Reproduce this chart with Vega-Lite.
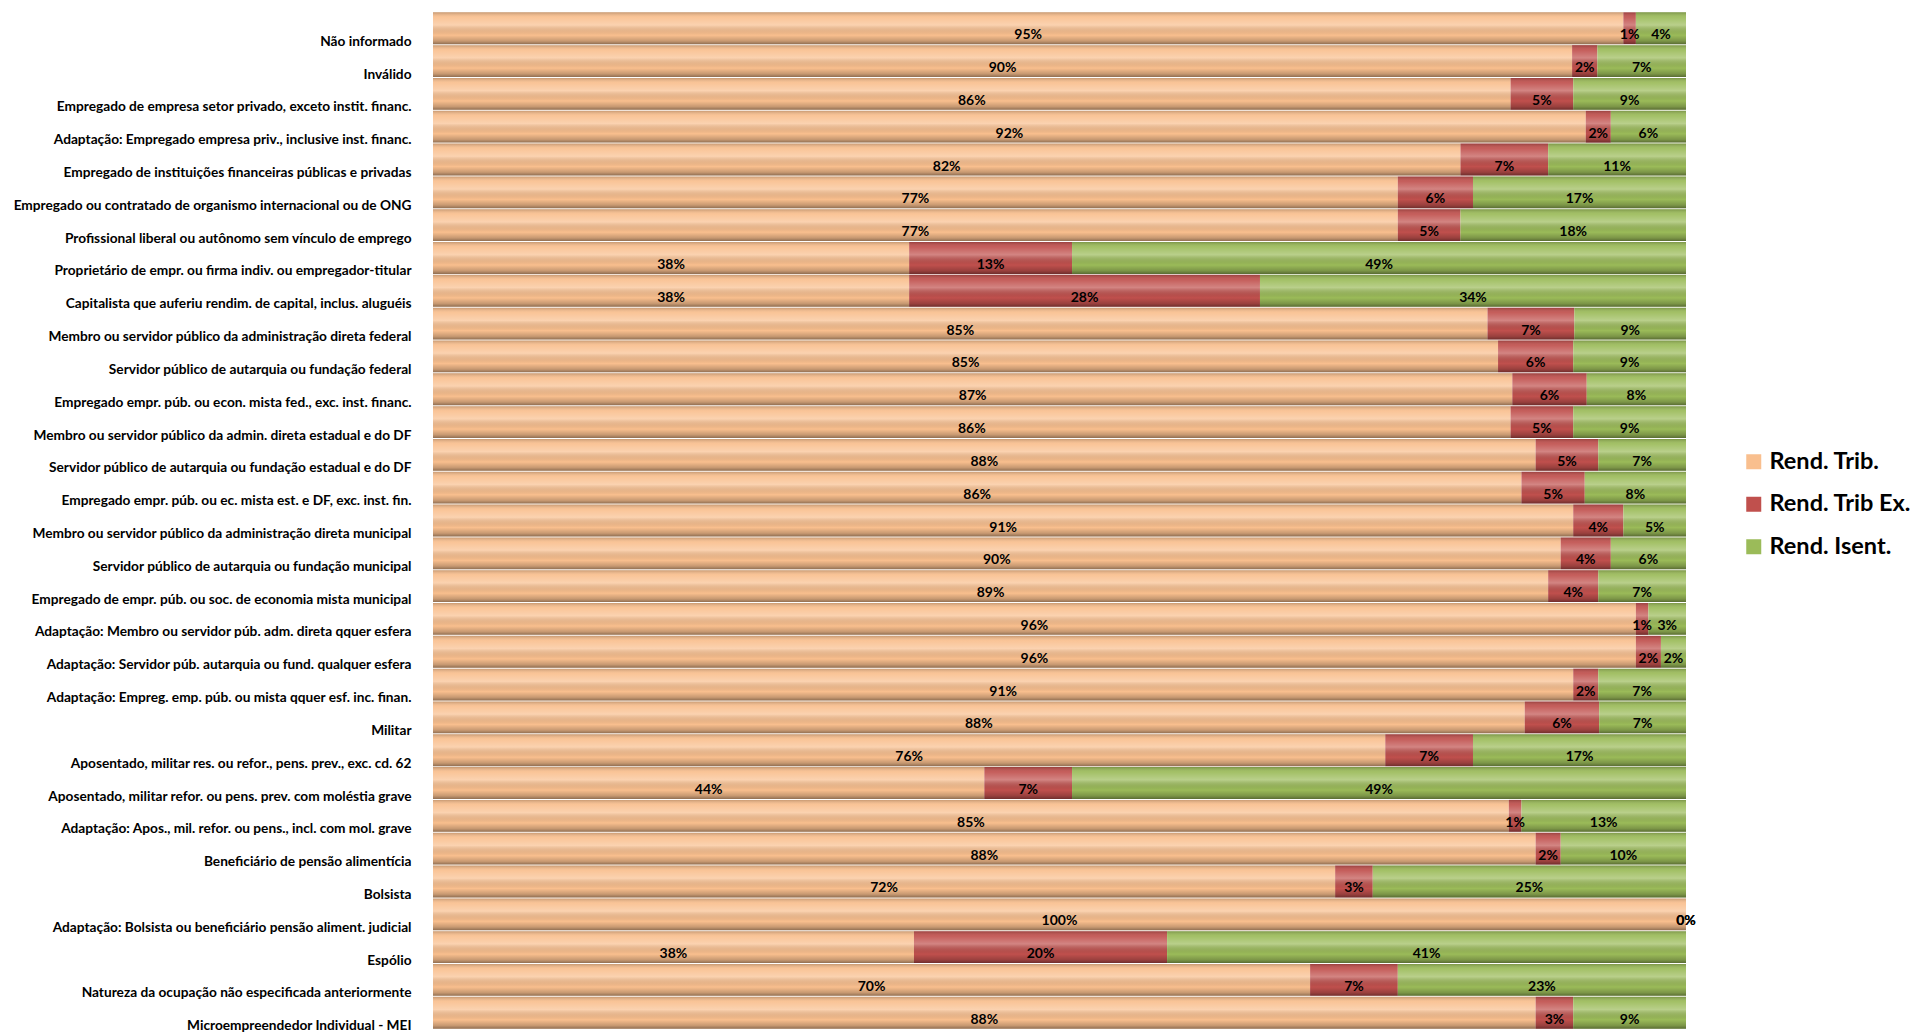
{
  "$schema": "https://vega.github.io/schema/vega-lite/v6.json",
  "width": 1253,
  "height": 1017,
  "autosize": {"type": "none"},
  "padding": {"left": 433, "top": 12, "right": 229, "bottom": 3},
  "background": "white",
  "config": {"view": {"stroke": null}, "font": "Lato"},
  "data": {"values": [
    {"c": "Não informado", "s": "Rend. Trib.", "p": 0.95}, {"c": "Não informado", "s": "Rend. Trib Ex.", "p": 0.01}, {"c": "Não informado", "s": "Rend. Isent.", "p": 0.04},
    {"c": "Inválido", "s": "Rend. Trib.", "p": 0.90}, {"c": "Inválido", "s": "Rend. Trib Ex.", "p": 0.02}, {"c": "Inválido", "s": "Rend. Isent.", "p": 0.07},
    {"c": "Empregado de empresa setor privado, exceto instit. financ.", "s": "Rend. Trib.", "p": 0.86}, {"c": "Empregado de empresa setor privado, exceto instit. financ.", "s": "Rend. Trib Ex.", "p": 0.05}, {"c": "Empregado de empresa setor privado, exceto instit. financ.", "s": "Rend. Isent.", "p": 0.09},
    {"c": "Adaptação: Empregado empresa priv., inclusive inst. financ.", "s": "Rend. Trib.", "p": 0.92}, {"c": "Adaptação: Empregado empresa priv., inclusive inst. financ.", "s": "Rend. Trib Ex.", "p": 0.02}, {"c": "Adaptação: Empregado empresa priv., inclusive inst. financ.", "s": "Rend. Isent.", "p": 0.06},
    {"c": "Empregado de instituições financeiras públicas e privadas", "s": "Rend. Trib.", "p": 0.82}, {"c": "Empregado de instituições financeiras públicas e privadas", "s": "Rend. Trib Ex.", "p": 0.07}, {"c": "Empregado de instituições financeiras públicas e privadas", "s": "Rend. Isent.", "p": 0.11},
    {"c": "Empregado ou contratado de organismo internacional ou de ONG", "s": "Rend. Trib.", "p": 0.77}, {"c": "Empregado ou contratado de organismo internacional ou de ONG", "s": "Rend. Trib Ex.", "p": 0.06}, {"c": "Empregado ou contratado de organismo internacional ou de ONG", "s": "Rend. Isent.", "p": 0.17},
    {"c": "Profissional liberal ou autônomo sem vínculo de emprego", "s": "Rend. Trib.", "p": 0.77}, {"c": "Profissional liberal ou autônomo sem vínculo de emprego", "s": "Rend. Trib Ex.", "p": 0.05}, {"c": "Profissional liberal ou autônomo sem vínculo de emprego", "s": "Rend. Isent.", "p": 0.18},
    {"c": "Proprietário de empr. ou firma indiv. ou empregador-titular", "s": "Rend. Trib.", "p": 0.38}, {"c": "Proprietário de empr. ou firma indiv. ou empregador-titular", "s": "Rend. Trib Ex.", "p": 0.13}, {"c": "Proprietário de empr. ou firma indiv. ou empregador-titular", "s": "Rend. Isent.", "p": 0.49},
    {"c": "Capitalista que auferiu rendim. de capital, inclus. aluguéis", "s": "Rend. Trib.", "p": 0.38}, {"c": "Capitalista que auferiu rendim. de capital, inclus. aluguéis", "s": "Rend. Trib Ex.", "p": 0.28}, {"c": "Capitalista que auferiu rendim. de capital, inclus. aluguéis", "s": "Rend. Isent.", "p": 0.34},
    {"c": "Membro ou servidor público da administração direta federal", "s": "Rend. Trib.", "p": 0.85}, {"c": "Membro ou servidor público da administração direta federal", "s": "Rend. Trib Ex.", "p": 0.07}, {"c": "Membro ou servidor público da administração direta federal", "s": "Rend. Isent.", "p": 0.09},
    {"c": "Servidor público de autarquia ou fundação federal", "s": "Rend. Trib.", "p": 0.85}, {"c": "Servidor público de autarquia ou fundação federal", "s": "Rend. Trib Ex.", "p": 0.06}, {"c": "Servidor público de autarquia ou fundação federal", "s": "Rend. Isent.", "p": 0.09},
    {"c": "Empregado empr. púb. ou econ. mista fed., exc. inst. financ.", "s": "Rend. Trib.", "p": 0.87}, {"c": "Empregado empr. púb. ou econ. mista fed., exc. inst. financ.", "s": "Rend. Trib Ex.", "p": 0.06}, {"c": "Empregado empr. púb. ou econ. mista fed., exc. inst. financ.", "s": "Rend. Isent.", "p": 0.08},
    {"c": "Membro ou servidor público da admin. direta estadual e do DF", "s": "Rend. Trib.", "p": 0.86}, {"c": "Membro ou servidor público da admin. direta estadual e do DF", "s": "Rend. Trib Ex.", "p": 0.05}, {"c": "Membro ou servidor público da admin. direta estadual e do DF", "s": "Rend. Isent.", "p": 0.09},
    {"c": "Servidor público de autarquia ou fundação estadual e do DF", "s": "Rend. Trib.", "p": 0.88}, {"c": "Servidor público de autarquia ou fundação estadual e do DF", "s": "Rend. Trib Ex.", "p": 0.05}, {"c": "Servidor público de autarquia ou fundação estadual e do DF", "s": "Rend. Isent.", "p": 0.07},
    {"c": "Empregado empr. púb. ou ec. mista est. e DF, exc. inst. fin.", "s": "Rend. Trib.", "p": 0.86}, {"c": "Empregado empr. púb. ou ec. mista est. e DF, exc. inst. fin.", "s": "Rend. Trib Ex.", "p": 0.05}, {"c": "Empregado empr. púb. ou ec. mista est. e DF, exc. inst. fin.", "s": "Rend. Isent.", "p": 0.08},
    {"c": "Membro ou servidor público da administração direta municipal", "s": "Rend. Trib.", "p": 0.91}, {"c": "Membro ou servidor público da administração direta municipal", "s": "Rend. Trib Ex.", "p": 0.04}, {"c": "Membro ou servidor público da administração direta municipal", "s": "Rend. Isent.", "p": 0.05},
    {"c": "Servidor público de autarquia ou fundação municipal", "s": "Rend. Trib.", "p": 0.90}, {"c": "Servidor público de autarquia ou fundação municipal", "s": "Rend. Trib Ex.", "p": 0.04}, {"c": "Servidor público de autarquia ou fundação municipal", "s": "Rend. Isent.", "p": 0.06},
    {"c": "Empregado de empr. púb. ou soc. de economia mista municipal", "s": "Rend. Trib.", "p": 0.89}, {"c": "Empregado de empr. púb. ou soc. de economia mista municipal", "s": "Rend. Trib Ex.", "p": 0.04}, {"c": "Empregado de empr. púb. ou soc. de economia mista municipal", "s": "Rend. Isent.", "p": 0.07},
    {"c": "Adaptação: Membro ou servidor púb. adm. direta qquer esfera", "s": "Rend. Trib.", "p": 0.96}, {"c": "Adaptação: Membro ou servidor púb. adm. direta qquer esfera", "s": "Rend. Trib Ex.", "p": 0.01}, {"c": "Adaptação: Membro ou servidor púb. adm. direta qquer esfera", "s": "Rend. Isent.", "p": 0.03},
    {"c": "Adaptação: Servidor púb. autarquia ou fund. qualquer esfera", "s": "Rend. Trib.", "p": 0.96}, {"c": "Adaptação: Servidor púb. autarquia ou fund. qualquer esfera", "s": "Rend. Trib Ex.", "p": 0.02}, {"c": "Adaptação: Servidor púb. autarquia ou fund. qualquer esfera", "s": "Rend. Isent.", "p": 0.02},
    {"c": "Adaptação: Empreg. emp. púb. ou mista qquer esf. inc. finan.", "s": "Rend. Trib.", "p": 0.91}, {"c": "Adaptação: Empreg. emp. púb. ou mista qquer esf. inc. finan.", "s": "Rend. Trib Ex.", "p": 0.02}, {"c": "Adaptação: Empreg. emp. púb. ou mista qquer esf. inc. finan.", "s": "Rend. Isent.", "p": 0.07},
    {"c": "Militar", "s": "Rend. Trib.", "p": 0.88}, {"c": "Militar", "s": "Rend. Trib Ex.", "p": 0.06}, {"c": "Militar", "s": "Rend. Isent.", "p": 0.07},
    {"c": "Aposentado, militar res. ou refor., pens. prev., exc. cd. 62", "s": "Rend. Trib.", "p": 0.76}, {"c": "Aposentado, militar res. ou refor., pens. prev., exc. cd. 62", "s": "Rend. Trib Ex.", "p": 0.07}, {"c": "Aposentado, militar res. ou refor., pens. prev., exc. cd. 62", "s": "Rend. Isent.", "p": 0.17},
    {"c": "Aposentado, militar refor. ou pens. prev. com moléstia grave", "s": "Rend. Trib.", "p": 0.44}, {"c": "Aposentado, militar refor. ou pens. prev. com moléstia grave", "s": "Rend. Trib Ex.", "p": 0.07}, {"c": "Aposentado, militar refor. ou pens. prev. com moléstia grave", "s": "Rend. Isent.", "p": 0.49},
    {"c": "Adaptação: Apos., mil. refor. ou pens., incl. com mol. grave", "s": "Rend. Trib.", "p": 0.85}, {"c": "Adaptação: Apos., mil. refor. ou pens., incl. com mol. grave", "s": "Rend. Trib Ex.", "p": 0.01}, {"c": "Adaptação: Apos., mil. refor. ou pens., incl. com mol. grave", "s": "Rend. Isent.", "p": 0.13},
    {"c": "Beneficiário de pensão alimentícia", "s": "Rend. Trib.", "p": 0.88}, {"c": "Beneficiário de pensão alimentícia", "s": "Rend. Trib Ex.", "p": 0.02}, {"c": "Beneficiário de pensão alimentícia", "s": "Rend. Isent.", "p": 0.10},
    {"c": "Bolsista", "s": "Rend. Trib.", "p": 0.72}, {"c": "Bolsista", "s": "Rend. Trib Ex.", "p": 0.03}, {"c": "Bolsista", "s": "Rend. Isent.", "p": 0.25},
    {"c": "Adaptação: Bolsista ou beneficiário pensão aliment. judicial", "s": "Rend. Trib.", "p": 1.00}, {"c": "Adaptação: Bolsista ou beneficiário pensão aliment. judicial", "s": "Rend. Trib Ex.", "p": 0.0}, {"c": "Adaptação: Bolsista ou beneficiário pensão aliment. judicial", "s": "Rend. Isent.", "p": 0.0},
    {"c": "Espólio", "s": "Rend. Trib.", "p": 0.38}, {"c": "Espólio", "s": "Rend. Trib Ex.", "p": 0.20}, {"c": "Espólio", "s": "Rend. Isent.", "p": 0.41},
    {"c": "Natureza da ocupação não especificada anteriormente", "s": "Rend. Trib.", "p": 0.70}, {"c": "Natureza da ocupação não especificada anteriormente", "s": "Rend. Trib Ex.", "p": 0.07}, {"c": "Natureza da ocupação não especificada anteriormente", "s": "Rend. Isent.", "p": 0.23},
    {"c": "Microempreendedor Individual - MEI", "s": "Rend. Trib.", "p": 0.88}, {"c": "Microempreendedor Individual - MEI", "s": "Rend. Trib Ex.", "p": 0.03}, {"c": "Microempreendedor Individual - MEI", "s": "Rend. Isent.", "p": 0.09}
  ]},
  "transform": [
    {"stack": "p", "groupby": ["c"], "sort": [{"field": "s", "order": "descending"}], "offset": "normalize", "as": ["x0", "x1"]}
  ],
  "encoding": {
    "y": {
      "field": "c", "type": "nominal", "sort": null,
      "scale": {"paddingInner": 0.03, "paddingOuter": 0.01},
      "axis": {"title": null, "domain": false, "ticks": false, "labelFont": "Lato", "labelFontWeight": "bold", "labelFontSize": 13.7, "labelColor": "black", "labelPadding": 22, "labelOffset": 13.5, "labelLimit": 0}
    }
  },
  "layer": [
    {
      "mark": {"type": "bar"},
      "encoding": {
        "x": {"field": "x0", "type": "quantitative", "scale": {"domain": [0, 1]}, "axis": null},
        "x2": {"field": "x1"},
        "color": {
          "field": "s", "type": "nominal",
          "scale": {"domain": ["Rend. Trib.", "Rend. Trib Ex.", "Rend. Isent."], "range": ["#F9BF8E", "#C0504D", "#9BBB59"]},
          "legend": {"title": null, "orient": "none", "legendX": 1309, "legendY": 438, "padding": 0, "symbolType": "square", "symbolSize": 225, "symbolStrokeWidth": 0, "symbolOpacity": 1, "labelFont": "Lato", "labelFontWeight": "bold", "labelFontSize": 23.5, "labelColor": "black", "labelOffset": 4, "rowPadding": 17.5, "labelLimit": 0}
        }
      }
    },
    {
      "mark": {"type": "bar", "fill": {"gradient": "linear", "x1": 0, "y1": 0, "x2": 0, "y2": 1, "stops": [
        {"offset": 0, "color": "rgba(0,0,0,0.2)"},
        {"offset": 0.15, "color": "rgba(255,255,255,0.08)"},
        {"offset": 0.4, "color": "rgba(255,255,255,0.3)"},
        {"offset": 0.72, "color": "rgba(0,0,0,0.0)"},
        {"offset": 0.9, "color": "rgba(0,0,0,0.2)"},
        {"offset": 1, "color": "rgba(0,0,0,0.42)"}
      ]}},
      "encoding": {
        "x": {"field": "x0", "type": "quantitative"},
        "x2": {"field": "x1"}
      }
    },
    {
      "transform": [
        {"fold": ["x0", "x1"], "as": ["edge", "pos"]},
        {"aggregate": [{"op": "mean", "field": "pos", "as": "mid"}], "groupby": ["c", "s", "p"]}
      ],
      "mark": {"type": "text", "font": "Lato", "fontWeight": "bold", "fontSize": 14, "dy": 7, "color": "black"},
      "encoding": {
        "x": {"field": "mid", "type": "quantitative"},
        "text": {"field": "p", "type": "quantitative", "format": ".0%"}
      }
    }
  ]
}
